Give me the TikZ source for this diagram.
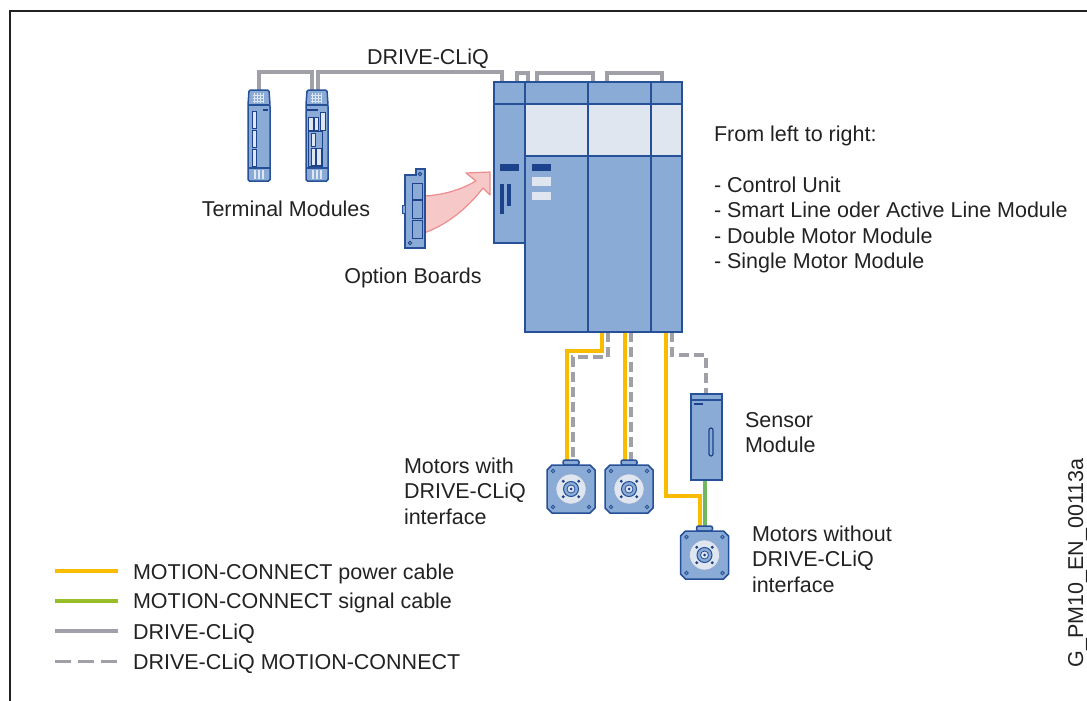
\documentclass[tikz,border=0pt]{standalone}
\usepackage{fontspec}
\setmainfont{Liberation Sans}
\usetikzlibrary{calc}
\definecolor{modfill}{RGB}{138,171,214}
\definecolor{modline}{RGB}{38,80,152}
\definecolor{moddark}{RGB}{28,66,140}
\definecolor{modlight}{RGB}{224,230,240}
\definecolor{cliqgray}{RGB}{160,160,168}
\definecolor{powery}{RGB}{250,188,0}
\definecolor{sigg}{RGB}{112,184,96}
\definecolor{leggreen}{RGB}{150,190,40}
\definecolor{txt}{RGB}{34,34,34}
\definecolor{arrowfill}{RGB}{247,200,200}
\definecolor{arrowline}{RGB}{236,140,140}
\begin{document}
\begin{tikzpicture}[x=1pt,y=-1pt,
  every node/.style={font=\fontsize{21.5}{25.5}\selectfont, text=txt, inner sep=0pt, outer sep=0pt},
  modbox/.style={fill=modfill, draw=modline, line width=1.5pt},
  unitbox/.style={modbox, anchor=north west, minimum width=#1},
  cliq/.style={draw=cliqgray, line width=4pt},
  dcliq/.style={draw=cliqgray, line width=3.5pt, dash pattern=on 10pt off 5pt},
  dcliqleg/.style={draw=cliqgray, line width=3.5pt, dash pattern=on 16pt off 7pt},
  power/.style={draw=powery, line width=3.5pt},
  signal/.style={draw=sigg, line width=3.5pt},
  slot/.style={fill=modlight, draw=moddark, line width=1pt},
  motor/.pic={
    % flange tab
    \filldraw[modbox, rounded corners=2pt] (-8,-24) rectangle (8,-29);
    % square body with chamfered corners
    \filldraw[modbox] (-19,-24) -- (19,-24) -- (24,-19) -- (24,19) -- (19,24)
      -- (-19,24) -- (-24,19) -- (-24,-19) -- cycle;
    \foreach \sx in {-1,1} \foreach \sy in {-1,1}
      \draw[modline, line width=0.8pt] (\sx*18,\sy*18) circle (1.8);
    \filldraw[fill=modlight, draw=modline!50, line width=0.6pt] (0,0) circle (15);
    \foreach \a in {45,135,225,315} \fill[moddark] (\a:11) circle (1.6);
    \filldraw[fill=modfill, draw=modline, line width=1pt] (0,0) circle (7.5);
    \filldraw[fill=modlight, draw=modline, line width=0.8pt] (0,0) circle (4);
    \fill[moddark] (0,0) circle (1.5);
  },
  tmbase/.pic={
    \filldraw[modbox, rounded corners=1.5pt] (1,0) -- (21,0) -- (22,15) -- (22,91)
      -- (0,91) -- (0,15) -- cycle;
    \foreach \gx in {6,9,12,15} \draw[modlight, line width=0.7pt] (\gx,3) -- (\gx,13);
    \foreach \gy in {5,8,11} \draw[modlight, line width=0.7pt] (5,\gy) -- (16,\gy);
    \draw[modline, line width=1.5pt] (0,15) -- (22,15);
    \draw[modline, line width=1.2pt] (0,78) -- (22,78);
    \foreach \gx in {7,11,15} \draw[modlight, line width=1.2pt] (\gx,80) -- (\gx,89);
  }
]
\useasboundingbox (0,0) rectangle (1087,701);

% frame
\draw[txt, line width=2pt] (10,701) -- (10,11) -- (1087,11);

% ---------- connection points ----------
\coordinate (tm1a) at (259,90);
\coordinate (tm2a) at (312,90);
\coordinate (tm2b) at (318,90);
\coordinate (cua)  at (502,82);
\coordinate (cub)  at (517,82);
\coordinate (alma) at (528,82);
\coordinate (almb) at (537,82);
\coordinate (dmma) at (593,82);
\coordinate (dmmb) at (607,82);
\coordinate (smma) at (662,82);
\coordinate (dmmp1) at (602,332);
\coordinate (dmmd1) at (608,332);
\coordinate (dmmp2) at (625,332);
\coordinate (dmmd2) at (631,332);
\coordinate (smmp)  at (666,332);
\coordinate (smmd)  at (672,332);
\coordinate (m1) at (571,489);
\coordinate (m2) at (629,489);
\coordinate (m3) at (704.5,555);
\coordinate (m1p) at (567,460);
\coordinate (m1d) at (573,460);
\coordinate (m2p) at (625,460);
\coordinate (m2d) at (631,460);
\coordinate (m3p) at (700,527);
\coordinate (m3s) at (705,527);
\coordinate (smin)  at (706,394);
\coordinate (smout) at (705,480);

% ---------- DRIVE-CLiQ cabling ----------
\draw[cliq] (tm1a) -- ++(0,-18) -| (tm2a);
\draw[cliq] (tm2b) -- ++(0,-18) -| (cua);
\draw[cliq] (cub) -- ++(0,-9) -| (alma);
\draw[cliq] (almb) -- ++(0,-9) -| (dmma);
\draw[cliq] (dmmb) -- ++(0,-9) -| (smma);

% ---------- motor side cabling ----------
\draw[power] (dmmp1) -- ++(0,19) -| (m1p);
\draw[dcliq] (dmmd1) -- ++(0,25) -| (m1d);
\draw[power] (dmmp2) -- (m2p);
\draw[dcliq] (dmmd2) -- (m2d);
\draw[power] (smmp) -- ++(0,164) -| (m3p);
\draw[dcliq] (smmd) -- ++(0,23) -| (smin);
\draw[signal] (smout) -- (m3s);

% ---------- drive line-up ----------
\node[unitbox=31pt, minimum height=161pt] (cu)  at (494,82) {};
\node[unitbox=63pt, minimum height=250pt] (alm) at (525,82) {};
\node[unitbox=63pt, minimum height=250pt] (dmm) at (588,82) {};
\node[unitbox=31pt, minimum height=250pt] (smm) at (651,82) {};
\fill[modlight] (525,104) rectangle (682,156);
\draw[modline, line width=1.5pt] (494,104) -- (682,104) (525,156) -- (682,156);
\foreach \m in {cu,alm,dmm,smm}
  \draw[modline, line width=1.5pt] (\m.north west) rectangle (\m.south east);
% control unit front
\fill[moddark] (500,164) rectangle (519,171);
\fill[moddark] (500,184) rectangle (504,214);
\fill[moddark] (507,184) rectangle (511,206);
% line module front
\fill[moddark] (532,164) rectangle (551,171);
\fill[modlight] (532,177) rectangle (551,186);
\fill[modlight] (532,192) rectangle (551,200);

% ---------- terminal modules ----------
\pic at (248,90) {tmbase};
\filldraw[slot] (252,111) rectangle (256,128);
\filldraw[slot] (252,130) rectangle (256,147);
\filldraw[slot] (252,149) rectangle (256,166);
\fill[moddark] (263,109) rectangle (268,111);
\pic at (306,90) {tmbase};
\draw[moddark, line width=2pt] (307,110) -- (318,110);
\filldraw[slot] (308,117) rectangle (313,130);
\filldraw[slot] (314,117) rectangle (318,130);
\filldraw[slot] (320,112) rectangle (325,130);
\draw[moddark, line width=1pt] (308,131) rectangle (322,166);
\filldraw[slot] (311,133) rectangle (315,146);
\filldraw[slot] (311,148) rectangle (315,165);
\filldraw[slot] (316,148) rectangle (321,165);

% ---------- option board and insertion arrow ----------
\filldraw[fill=arrowfill, draw=arrowline, line width=1.2pt, line join=round]
  (424,196) .. controls (445,195) and (462,189) .. (476,181) -- (466,173)
  -- (490,172) -- (490,195) -- (483,188)
  .. controls (466,210) and (446,225) .. (424,233) -- cycle;
\filldraw[modbox] (405,175) -- (416,175) -- (416,169) -- (425,169) -- (425,248)
  -- (405,248) -- cycle;
\filldraw[modbox, line width=1pt] (402,205) rectangle (405,213);
\filldraw[fill=modfill, draw=moddark, line width=1pt] (412,183) rectangle (422,199);
\filldraw[fill=modfill, draw=moddark, line width=1pt] (412,200) rectangle (422,218);
\filldraw[fill=modfill, draw=moddark, line width=1pt] (412,220) rectangle (422,238);
\draw[moddark, line width=0.8pt] (420,174) circle (1.8) (410,243) circle (1.8);

% ---------- sensor module ----------
\node[modbox, anchor=north west, minimum width=31pt, minimum height=86pt] (sm) at (691,394) {};
\draw[modline, line width=1.2pt] (691,400) -- (722,400);
\draw[moddark, line width=1.2pt] (694,404) -- (703,404);
\filldraw[fill=modfill, draw=moddark, line width=1.2pt, rounded corners=2pt]
  (709,428) rectangle (713,456);

% ---------- motors ----------
\pic at (m1) {motor};
\pic at (m2) {motor};
\pic at (m3) {motor};

% ---------- labels ----------
\node[anchor=base] (lcliq) at (428,65) {DRIVE-CLiQ};
\node[anchor=base] (ltm) at (286,216) {Terminal Modules};
\node[anchor=base] (lob) at (413,283) {Option Boards};
\node[anchor=base west] (lfrom) at (714,141) {From left to right:};
\node[anchor=base west] (l1) at (714,192.3) {- Control Unit};
\node[anchor=base west] (l2) at (714,217.8) {- Smart Line oder Active Line Module};
\node[anchor=base west] (l3) at (714,243.3) {- Double Motor Module};
\node[anchor=base west] (l4) at (714,268.8) {- Single Motor Module};
\node[anchor=base west] (ls1) at (745,427.7) {Sensor};
\node[anchor=base west] (ls2) at (745,452.7) {Module};
\node[anchor=base west] (lw1) at (404,473) {Motors with};
\node[anchor=base west] (lw2) at (404,498.5) {DRIVE-CLiQ};
\node[anchor=base west] (lw3) at (404,524) {interface};
\node[anchor=base west] (lo1) at (752,541) {Motors without};
\node[anchor=base west] (lo2) at (752,566.5) {DRIVE-CLiQ};
\node[anchor=base west] (lo3) at (752,592) {interface};
\node[anchor=base, rotate=90] (lid) at (1083,563) {G\_PM10\_EN\_00113a};

% ---------- legend ----------
\coordinate (k1a) at (55,571);   \coordinate (k1b) at (118,571);
\coordinate (k2a) at (55,601);   \coordinate (k2b) at (118,601);
\coordinate (k3a) at (55,631);   \coordinate (k3b) at (118,631);
\coordinate (k4a) at (55,661.5); \coordinate (k4b) at (118,661.5);
\draw[power] (k1a) -- (k1b);
\draw[draw=leggreen, line width=3.5pt] (k2a) -- (k2b);
\draw[cliq, line width=3.5pt] (k3a) -- (k3b);
\draw[dcliqleg] (k4a) -- (k4b);
\node[anchor=base west] (t1) at (133,579) {MOTION-CONNECT power cable};
\node[anchor=base west] (t2) at (133,608.3) {MOTION-CONNECT signal cable};
\node[anchor=base west] (t3) at (133,639.5) {DRIVE-CLiQ};
\node[anchor=base west] (t4) at (133,669) {DRIVE-CLiQ MOTION-CONNECT};
\end{tikzpicture}
\end{document}
